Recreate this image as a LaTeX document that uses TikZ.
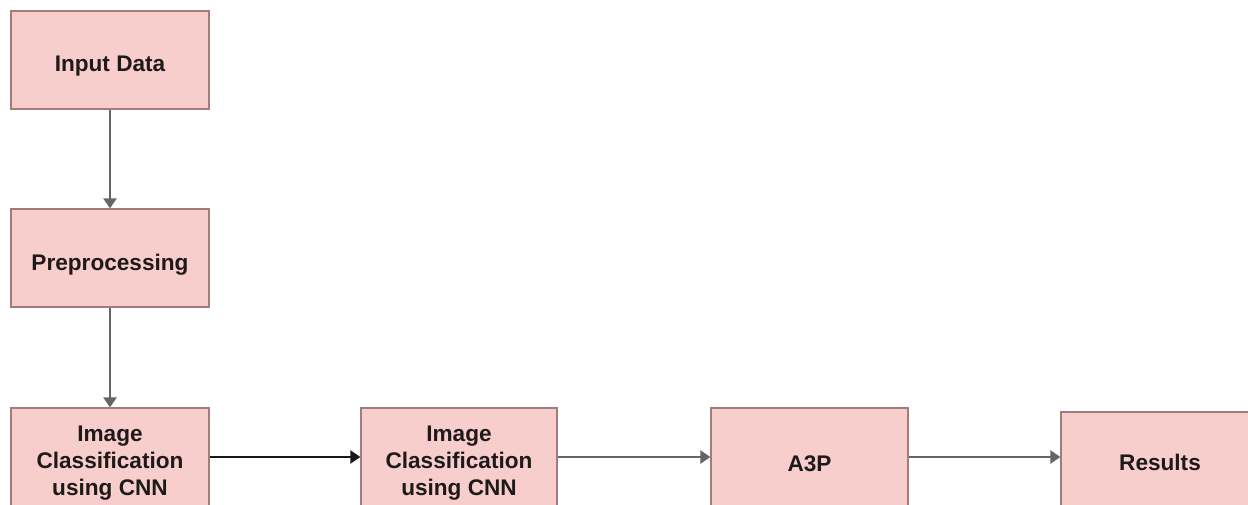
\documentclass[tikz,border=0pt]{standalone}
\usepackage{fontspec}
\setmainfont{Liberation Sans}
\usetikzlibrary{arrows.meta}
\definecolor{boxfill}{HTML}{F8CECC}
\definecolor{boxline}{HTML}{A07D7A}
\definecolor{txt}{HTML}{1E1A1A}
\definecolor{arrgray}{HTML}{666666}
\tikzset{
  stagebox/.style={draw=boxline, line width=0.6pt, fill=boxfill, minimum width=99pt, minimum height=49pt,
    inner sep=0pt},
  stagetext/.style={inner sep=0pt, align=center, text=txt, yshift=-3.2pt,
    font=\fontsize{11.3}{13.6}\selectfont\bfseries},
  flow/.style={-{Triangle[length=5pt,width=6.5pt]}, line width=1.2pt, draw=arrgray},
  flowdark/.style={-{Triangle[length=5pt,width=6.5pt]}, line width=1pt, draw=black!90}
}
\begin{document}
\begin{tikzpicture}[x=0.5pt,y=-0.5pt]
\useasboundingbox (0,0) rectangle (1248,504);
\clip (0,0) rectangle (1248,504);
\fill[white] (0,0) rectangle (1248,504);
\node[stagebox, label={[stagetext]center:Input Data}] (input) at (110,60) {};
\node[stagebox, label={[stagetext]center:Preprocessing}] (pre) at (110,258) {};
\node[stagebox, label={[stagetext]center:Image\\Classification\\using CNN}] (cnn1) at (110,457) {};
\node[stagebox, minimum width=98pt, label={[stagetext]center:Image\\Classification\\using CNN}] (cnn2) at (459,457) {};
\node[stagebox, minimum width=98.5pt, label={[stagetext]center:A3P}] (a3p) at (809.5,457) {};
\node[stagebox, label={[stagetext, yshift=2.4pt]center:Results}] (res) at (1160,461) {};
\draw[flow] (input) -- (pre);
\draw[flow] (pre) -- (cnn1);
\draw[flowdark] (cnn1.east) -- (cnn2.west);
\draw[flow] (cnn2.east) -- (a3p.west);
\draw[flow] (a3p.east) -- (a3p.east -| res.west);
\end{tikzpicture}
\end{document}
